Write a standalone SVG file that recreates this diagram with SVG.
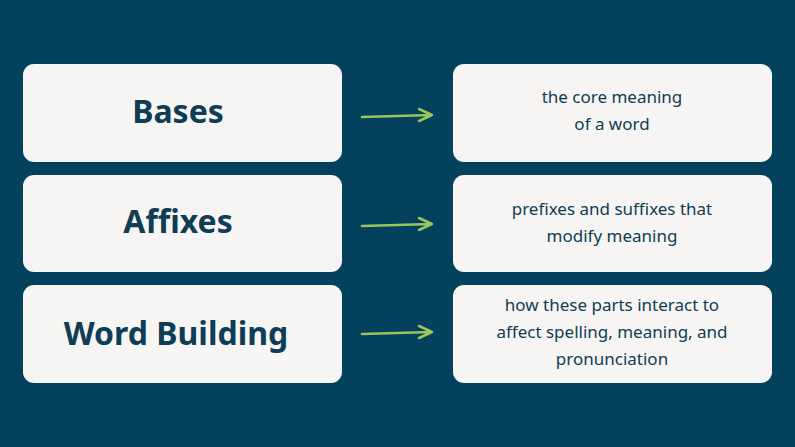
<svg xmlns="http://www.w3.org/2000/svg" width="795" height="447" viewBox="0 0 795 447">
<style>
.b{fill:#f6f5f3}
.t{fill:#0e3d55;font-family:"Noto Sans",sans-serif;text-anchor:middle}
.h{font-size:32px;font-weight:bold}
.s{font-size:17px}
.c{stroke:#9bc55a;stroke-width:2.5;fill:none;stroke-linecap:round;stroke-linejoin:round}
</style>
<rect width="795" height="447" fill="#03415d"/>
<g id="bases"><rect class="b" x="23" y="64" width="319" height="98" rx="11"/><text class="t h" x="178" y="123">Bases</text></g>
<g id="affixes"><rect class="b" x="23" y="175" width="319" height="97" rx="11"/><text class="t h" x="178" y="233">Affixes</text></g>
<g id="wordbuilding"><rect class="b" x="23" y="285" width="319" height="98" rx="11"/><text class="t h" x="176" y="345">Word Building</text></g>
<g id="core"><rect class="b" x="453" y="64" width="319" height="98" rx="11"/><text class="t s"><tspan x="612" y="103">the core meaning</tspan><tspan x="612" y="130">of a word</tspan></text></g>
<g id="prefixes"><rect class="b" x="453" y="175" width="319" height="97" rx="11"/><text class="t s"><tspan x="612" y="215">prefixes and suffixes that</tspan><tspan x="612" y="242">modify meaning</tspan></text></g>
<g id="interact"><rect class="b" x="453" y="285" width="319" height="98" rx="11"/><text class="t s"><tspan x="612" y="311">how these parts interact to</tspan><tspan x="612" y="338">affect spelling, meaning, and</tspan><tspan x="612" y="365">pronunciation</tspan></text></g>
<g id="connectors">
<path class="c" d="M362 117 L432 115 M419 109 L432 115 L419 121"/>
<path class="c" d="M362 226 L432 224 M419 218 L432 224 L419 230"/>
<path class="c" d="M362 334 L432 332 M419 326 L432 332 L419 338"/>
</g>
</svg>
